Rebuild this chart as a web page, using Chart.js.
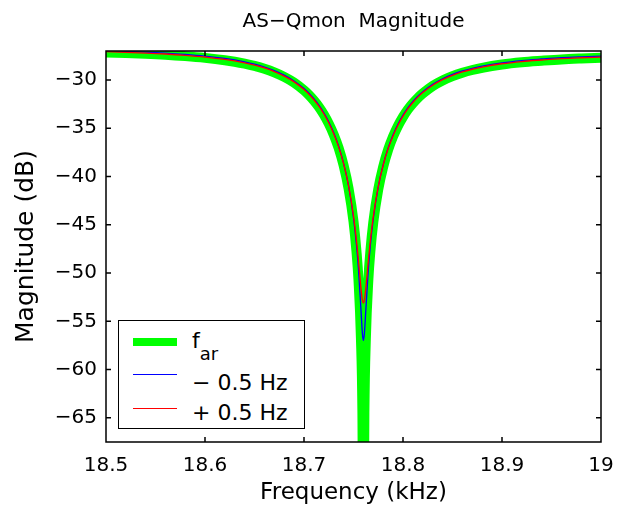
<!DOCTYPE html>
<html>
<head>
<meta charset="utf-8">
<title>AS-Qmon Magnitude</title>
<script src="https://cdn.jsdelivr.net/npm/chart.js@4.4.1/dist/chart.umd.min.js"></script>
<style>
    body { margin: 0; background: #fff; }
    #wrap { position: relative; width: 627px; height: 512px; }
    #legendBox {
        position: absolute; left: 118px; top: 320px; width: 185px; height: 107px;
        border: 1px solid #000; background: #fff; color: #000;
        font-family: "DejaVu Sans", sans-serif; font-size: 22px; line-height: 26px;
    }
    .swatch { position: absolute; left: 14px; width: 44px; }
    .entry { position: absolute; left: 73px; white-space: nowrap; }
</style>
</head>
<body>
<div id="wrap">
    <canvas id="magChart" width="627" height="512"></canvas>
    <div id="legendBox"></div>
</div>
<script>
// frequency axis (kHz), denser around the notch at 18.76
const freqKHz = [18.50, 18.52, 18.54, 18.56, 18.58, 18.60, 18.62, 18.63, 18.64, 18.65,
    18.66, 18.67, 18.68, 18.69, 18.70, 18.705, 18.71, 18.715, 18.72, 18.725,
    18.73, 18.735, 18.74, 18.745, 18.75, 18.753, 18.755, 18.7575, 18.759, 18.76,
    18.761, 18.7625, 18.765, 18.767, 18.77, 18.775, 18.78, 18.785, 18.79, 18.795,
    18.80, 18.805, 18.81, 18.815, 18.82, 18.83, 18.84, 18.85, 18.86, 18.87,
    18.88, 18.90, 18.92, 18.94, 18.96, 18.98, 19.00];

// magnitude (dB) at f_ar
const magFar = [-27.15, -27.22, -27.29, -27.39, -27.53, -27.71, -27.95, -28.11, -28.31, -28.55,
    -28.84, -29.21, -29.68, -30.28, -31.07, -31.56, -32.13, -32.79, -33.58, -34.52,
    -35.65, -37.05, -38.85, -41.23, -44.65, -47.75, -50.65, -56.75, -64.5, -80.0,
    -64.5, -56.75, -50.7, -47.8, -44.74, -41.34, -38.99, -37.22, -35.85, -34.74,
    -33.82, -33.05, -32.41, -31.86, -31.39, -30.62, -30.05, -29.60, -29.25, -28.97,
    -28.74, -28.40, -28.17, -28.01, -27.87, -27.78, -27.71];

// magnitude (dB) at f_ar - 0.5 Hz
const magMinus = [-26.97, -27.04, -27.11, -27.21, -27.35, -27.53, -27.77, -27.93, -28.13, -28.37,
    -28.66, -29.03, -29.50, -30.10, -30.89, -31.38, -31.95, -32.61, -33.40, -34.34,
    -35.47, -36.87, -38.64, -40.97, -44.28, -47.10, -49.60, -53.72, -56.27, -56.98,
    -56.28, -53.74, -49.64, -47.16, -44.36, -41.08, -38.78, -37.04, -35.67, -34.56,
    -33.64, -32.87, -32.23, -31.68, -31.21, -30.44, -29.87, -29.42, -29.07, -28.79,
    -28.56, -28.22, -27.99, -27.83, -27.69, -27.60, -27.53];

// magnitude (dB) at f_ar + 0.5 Hz
const magPlus = [-27.07, -27.14, -27.21, -27.31, -27.45, -27.63, -27.87, -28.03, -28.23, -28.47,
    -28.76, -29.13, -29.60, -30.20, -30.99, -31.48, -32.05, -32.71, -33.50, -34.44,
    -35.57, -36.93, -38.67, -40.94, -44.07, -46.61, -48.67, -51.51, -52.81, -53.11,
    -52.82, -51.53, -48.71, -46.67, -44.15, -41.05, -38.81, -37.10, -35.77, -34.66,
    -33.74, -32.97, -32.33, -31.78, -31.31, -30.54, -29.97, -29.52, -29.17, -28.89,
    -28.66, -28.32, -28.09, -27.93, -27.79, -27.70, -27.63];

const xTickValues = [18.5, 18.6, 18.7, 18.8, 18.9, 19];
const xTickLabels = ['18.5', '18.6', '18.7', '18.8', '18.9', '19'];
const yTickValues = [-65, -60, -55, -50, -45, -40, -35, -30];
const yTickLabels = ['\u221265', '\u221260', '\u221255', '\u221250', '\u221245', '\u221240', '\u221235', '\u221230'];

const seriesLabels = ['f_ar', '\u2212 0.5 Hz', '+ 0.5 Hz'];
const seriesColors = ['#00ff00', '#0000ff', '#ff0000'];

const FONT = 'DejaVu Sans';

// pairs the frequency list with one magnitude list
function toPoints(values) {
    return freqKHz.map((f, i) => ({x: f, y: values[i]}));
}

// MATLAB style box with the ticks pointing inwards
const boxPlugin = {
    id: 'matlabBox',
    afterDatasetsDraw(chart) {
        const {ctx, chartArea: a, scales: {x, y}} = chart;
        const tick = 5;
        ctx.save();
        ctx.strokeStyle = '#000';
        ctx.lineWidth = 1.5;
        ctx.beginPath();
        xTickValues.forEach(v => {
            const px = x.getPixelForValue(v);
            ctx.moveTo(px, a.bottom);
            ctx.lineTo(px, a.bottom - tick);
            ctx.moveTo(px, a.top);
            ctx.lineTo(px, a.top + tick);
        });
        yTickValues.forEach(v => {
            const py = y.getPixelForValue(v);
            ctx.moveTo(a.left, py);
            ctx.lineTo(a.left + tick, py);
            ctx.moveTo(a.right, py);
            ctx.lineTo(a.right - tick, py);
        });
        ctx.rect(a.left, a.top, a.right - a.left, a.bottom - a.top);
        ctx.stroke();
        ctx.restore();
    }
};

const ctx = document.getElementById('magChart');

new Chart(ctx, {
    type: 'line',
    data: {
        datasets: [{
            label: seriesLabels[0],
            data: toPoints(magFar),
            borderColor: seriesColors[0],
            borderWidth: 10,
            order: 3
        }, {
            label: seriesLabels[1],
            data: toPoints(magMinus),
            borderColor: seriesColors[1],
            borderWidth: 1.3,
            order: 2
        }, {
            label: seriesLabels[2],
            data: toPoints(magPlus),
            borderColor: seriesColors[2],
            borderWidth: 1.3,
            order: 1
        }]
    },
    options: {
        responsive: false,
        maintainAspectRatio: false,
        devicePixelRatio: 1,
        animation: false,
        events: [],
        layout: {padding: {left: 0, right: 26, top: 0, bottom: 0}},
        elements: {
            point: {radius: 0},
            line: {cubicInterpolationMode: 'monotone', borderJoinStyle: 'round', fill: false}
        },
        datasets: {line: {clip: 0}},
        plugins: {
            legend: {display: false},
            tooltip: {enabled: false},
            title: {
                display: true,
                fullSize: false,
                text: 'AS\u2212Qmon  Magnitude',
                color: '#000',
                font: {family: FONT, size: 20, weight: 'normal'},
                padding: {top: 10, bottom: 17}
            }
        },
        scales: {
            x: {
                type: 'linear',
                min: 18.5,
                max: 19,
                grid: {display: false, drawTicks: false},
                border: {display: false},
                afterBuildTicks: s => { s.ticks = xTickValues.map(v => ({value: v})); },
                afterFit: s => { s.height = 70; },
                ticks: {
                    autoSkip: false,
                    maxRotation: 0,
                    padding: 12,
                    color: '#000',
                    font: {family: FONT, size: 20},
                    callback: (v, i) => xTickLabels[i]
                },
                title: {
                    display: true,
                    text: 'Frequency (kHz)',
                    color: '#000',
                    font: {family: FONT, size: 23},
                    padding: {top: 0, bottom: 5}
                }
            },
            y: {
                type: 'linear',
                min: -67.5,
                max: -27,
                grid: {display: false, drawTicks: false},
                border: {display: false},
                afterBuildTicks: s => { s.ticks = yTickValues.map(v => ({value: v})); },
                afterFit: s => { s.width = 106; },
                ticks: {
                    autoSkip: false,
                    padding: 9,
                    color: '#000',
                    font: {family: FONT, size: 20},
                    callback: (v, i) => yTickLabels[i]
                },
                title: {
                    display: true,
                    text: 'Magnitude (dB)',
                    color: '#000',
                    font: {family: FONT, size: 25},
                    padding: {top: 11, bottom: 0}
                }
            }
        }
    },
    plugins: [boxPlugin]
});

// legend drawn as html so the subscript stays real text
const legendBox = document.getElementById('legendBox');
const swatchTops = [16.7, 52.7, 86.7];
const swatchHeights = [8, 1.5, 1.5];
const textTops = [7, 49, 79];
seriesLabels.forEach((label, i) => {
    const sw = document.createElement('div');
    sw.className = 'swatch';
    sw.style.top = swatchTops[i] + 'px';
    sw.style.height = swatchHeights[i] + 'px';
    sw.style.background = seriesColors[i];
    legendBox.appendChild(sw);

    const txt = document.createElement('div');
    txt.className = 'entry';
    txt.style.top = textTops[i] + 'px';
    if (label === 'f_ar') {
        txt.innerHTML = 'f<span style="font-size:18px;position:relative;top:12px">ar</span>';
    } else {
        txt.textContent = label;
    }
    legendBox.appendChild(txt);
});
</script>
</body>
</html>
